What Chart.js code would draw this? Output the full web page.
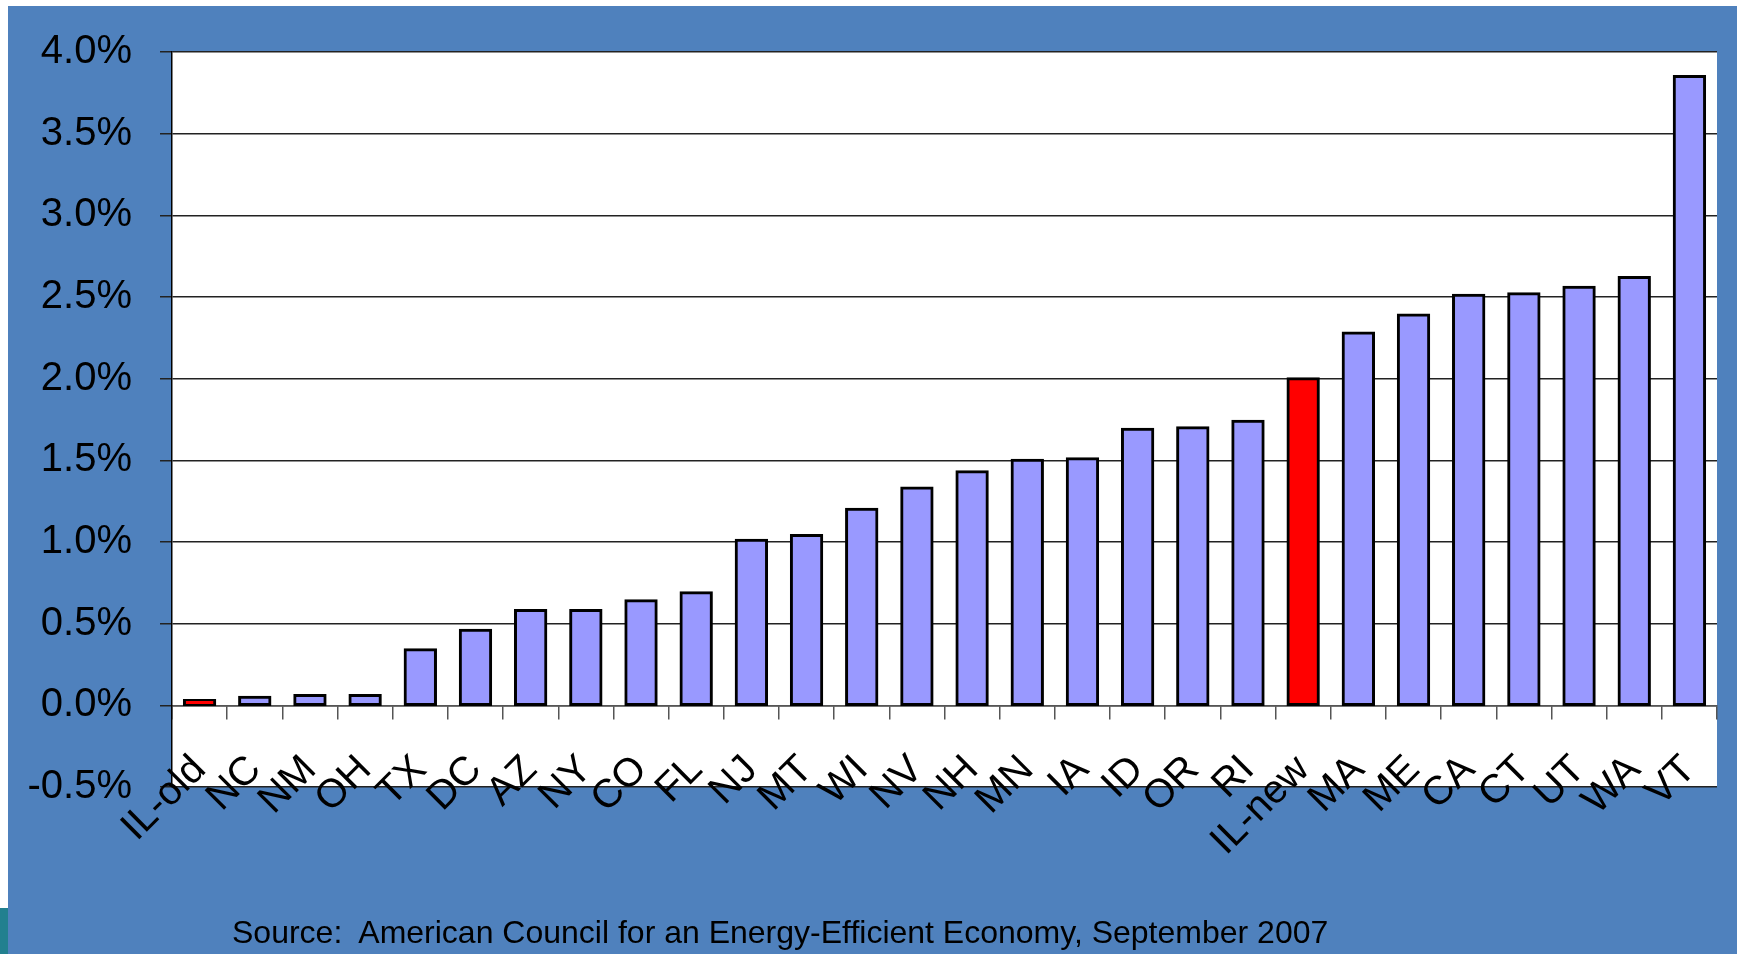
<!DOCTYPE html>
<html lang="en">

<head>
    <meta charset="UTF-8">
    <title>Energy Efficiency Savings Targets by State</title>
    <script src="https://cdn.jsdelivr.net/npm/chart.js"></script>
    <style>
        body {
            margin: 0;
            background: #ffffff;
            font-family: 'Liberation Sans', Arial, sans-serif;
        }

        #frame {
            position: absolute;
            left: 8px;
            top: 6px;
            width: 1729px;
            height: 948px;
            background: #4f81bd;
        }

        #corner {
            position: absolute;
            left: 0;
            top: 908px;
            width: 8px;
            height: 46px;
            background: #22808f;
        }

        #savingsChart {
            position: absolute;
            left: 0;
            top: 0;
        }

        #source {
            position: absolute;
            left: 232px;
            top: 914px;
            font-size: 32px;
            color: #000;
            white-space: pre;
        }
    </style>
</head>

<body>
    <div id="frame"></div>
    <div id="corner"></div>
    <canvas id="savingsChart" width="1740" height="954"></canvas>
    <div id="source">Source:  American Council for an Energy-Efficient Economy, September 2007</div>

    <script type="text/javascript">
        // annual savings target, percent of sales
        const states = ['IL-old', 'NC', 'NM', 'OH', 'TX', 'DC', 'AZ', 'NY', 'CO', 'FL',
            'NJ', 'MT', 'WI', 'NV', 'NH', 'MN', 'IA', 'ID', 'OR', 'RI',
            'IL-new', 'MA', 'ME', 'CA', 'CT', 'UT', 'WA', 'VT'];
        const savings = [0.03, 0.05, 0.06, 0.06, 0.34, 0.46, 0.58, 0.58, 0.64, 0.69,
            1.01, 1.04, 1.20, 1.33, 1.43, 1.50, 1.51, 1.69, 1.70, 1.74,
            2.00, 2.28, 2.39, 2.51, 2.52, 2.56, 2.62, 3.85];
        const highlighted = ['IL-old', 'IL-new'];

        const axisMin = -0.5;
        const axisMax = 4.0;
        const axisStep = 0.5;

        const barFill = '#9999ff';
        const highlightFill = '#ff0000';

        // white plot area on the blue slide
        const plotBackground = {
            id: 'plotBackground',
            beforeDraw(chart) {
                const { ctx, chartArea } = chart;
                ctx.save();
                ctx.fillStyle = '#ffffff';
                ctx.fillRect(chartArea.left, chartArea.top, chartArea.right - chartArea.left, chartArea.bottom - chartArea.top);
                ctx.restore();
            }
        };

        const ctx = document.getElementById('savingsChart').getContext('2d');
        const savingsChart = new Chart(ctx, {
            type: 'bar',
            data: {
                labels: states,
                datasets: [{
                    data: savings,
                    backgroundColor: states.map(s => highlighted.includes(s) ? highlightFill : barFill),
                    borderColor: '#000000',
                    borderWidth: 3,
                    borderSkipped: false,
                    inflateAmount: 1.5,
                    barPercentage: 0.55,
                    categoryPercentage: 1.0
                }]
            },
            options: {
                responsive: false,
                animation: false,
                devicePixelRatio: 1,
                layout: {
                    padding: { left: 8, top: 51, right: 23, bottom: 167 }
                },
                plugins: {
                    legend: { display: false },
                    tooltip: { enabled: false }
                },
                scales: {
                    x: {
                        position: { y: 0 },
                        grid: {
                            offset: true,
                            drawOnChartArea: false,
                            tickLength: 13,
                            color: '#555555',
                            lineWidth: 1.5
                        },
                        border: { color: '#555555', width: 1.5 },
                        ticks: {
                            autoSkip: false,
                            minRotation: 45,
                            maxRotation: 45,
                            padding: 28,
                            labelOffset: 0,
                            color: '#000000',
                            font: { family: 'Liberation Sans', size: 40 }
                        },
                        afterFit(scale) {
                            // labels hang below the zero line, keep them out of the layout
                            scale.paddingLeft = 0;
                            scale.paddingRight = 0;
                        }
                    },
                    y: {
                        min: axisMin,
                        max: axisMax,
                        ticks: {
                            stepSize: axisStep,
                            padding: 28,
                            color: '#000000',
                            font: { family: 'Liberation Sans', size: 40 },
                            callback: v => v.toFixed(1) + '%'
                        },
                        grid: {
                            color: '#222222',
                            lineWidth: 1.5,
                            tickLength: 12
                        },
                        border: { color: '#000000', width: 1.5 },
                        afterFit(scale) {
                            scale.width = 164;
                        }
                    }
                }
            },
            plugins: [plotBackground]
        });
    </script>

</body>

</html>
